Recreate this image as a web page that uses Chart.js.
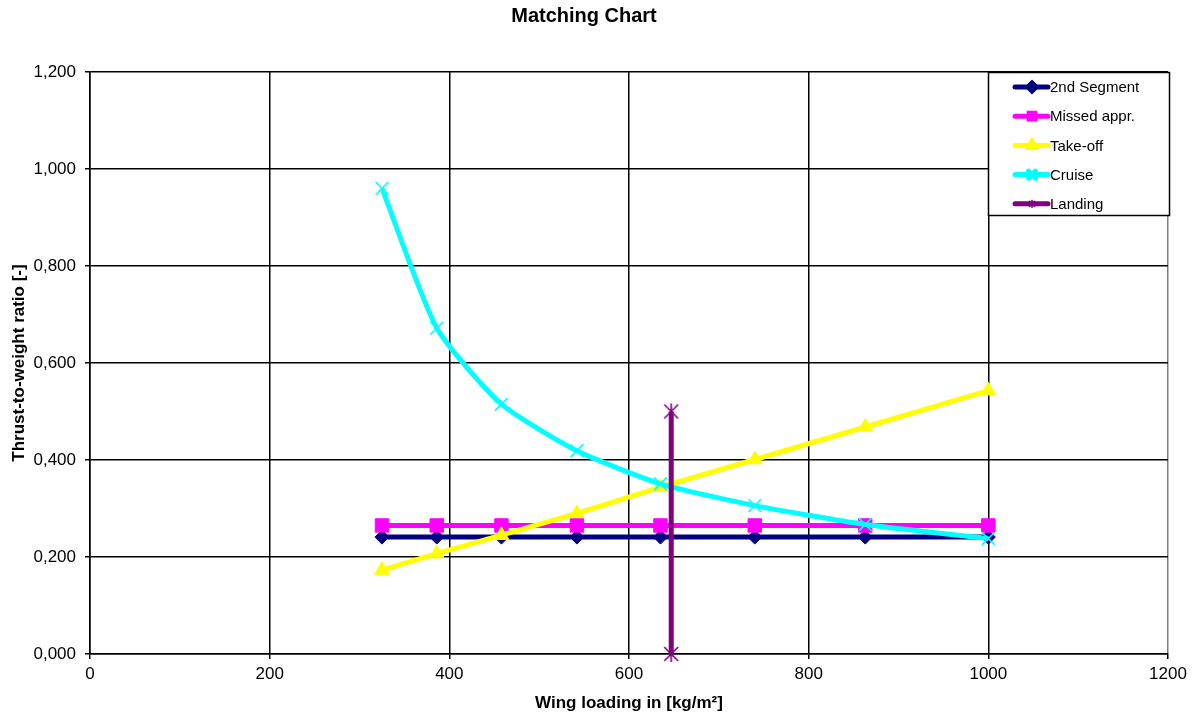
<!DOCTYPE html>
<html>
<head>
<meta charset="utf-8">
<title>Matching Chart</title>
<script src="https://cdn.jsdelivr.net/npm/chart.js@4/dist/chart.umd.min.js"></script>
<style>
    html, body { margin: 0; padding: 0; background: #fff; }
    #wrap { position: relative; width: 1193px; height: 718px; }
</style>
</head>
<body>
<div id="wrap"><canvas id="chart" width="1193" height="718"></canvas></div>
<script>
const wingLoading = [325, 386, 458, 542, 635, 740, 863, 1000];
const secondSegment = [0.241, 0.241, 0.241, 0.241, 0.241, 0.241, 0.241, 0.241];
const missedAppr = [0.265, 0.265, 0.265, 0.265, 0.265, 0.265, 0.265, 0.265];
const takeOff = [0.173, 0.207, 0.245, 0.290, 0.344, 0.401, 0.468, 0.543];
const cruise = [0.960, 0.672, 0.515, 0.419, 0.351, 0.306, 0.267, 0.238];
const landingX = [647, 647];
const landingY = [0, 0.5];

const seriesNames = ["2nd Segment", "Missed appr.", "Take-off", "Cruise", "Landing"];
const xTicks = [0, 200, 400, 600, 800, 1000, 1200];
const yTicks = [0, 0.2, 0.4, 0.6, 0.8, 1.0, 1.2];

const FONT = "'Liberation Sans', Arial, sans-serif";

function toPoints(xs, ys) {
    return ys.map((y, i) => ({ x: xs[i], y }));
}

// Excel style "star" marker: X with a vertical stroke
function starMarker(color, size) {
    const c = document.createElement("canvas");
    c.width = size;
    c.height = size;
    const g = c.getContext("2d");
    g.strokeStyle = color;
    g.lineWidth = 1.6;
    g.beginPath();
    g.moveTo(2, 2); g.lineTo(size - 2, size - 2);
    g.moveTo(size - 2, 2); g.lineTo(2, size - 2);
    g.moveTo(size / 2, 1); g.lineTo(size / 2, size - 1);
    g.stroke();
    return c;
}

const landingMarker = starMarker("#800080", 18);
const landingLegendMarker = starMarker("#800080", 10);

const datasets = [
    {
        label: seriesNames[0],
        data: toPoints(wingLoading, secondSegment),
        borderColor: "#000080",
        backgroundColor: "#000080",
        borderWidth: 5,
        pointStyle: "rectRot",
        pointRadius: 7,
        pointBorderWidth: 1,
        order: 5
    },
    {
        label: seriesNames[1],
        data: toPoints(wingLoading, missedAppr),
        borderColor: "#FF00FF",
        backgroundColor: "#FF00FF",
        borderWidth: 5,
        pointStyle: "rect",
        pointRadius: 9.5,
        pointBorderWidth: 1,
        order: 4
    },
    {
        label: seriesNames[2],
        data: toPoints(wingLoading, takeOff),
        borderColor: "#FFFF00",
        backgroundColor: "#FFFF00",
        borderWidth: 5,
        pointStyle: "triangle",
        pointRadius: 8.5,
        pointBorderWidth: 1,
        order: 3
    },
    {
        label: seriesNames[3],
        data: toPoints(wingLoading, cruise),
        borderColor: "#00FFFF",
        backgroundColor: "#00FFFF",
        borderWidth: 5,
        pointStyle: "crossRot",
        pointRadius: 9,
        pointBorderWidth: 1.6,
        tension: 0.2,
        order: 2
    },
    {
        label: seriesNames[4],
        data: toPoints(landingX, landingY),
        borderColor: "#800080",
        backgroundColor: "#800080",
        borderWidth: 5,
        pointStyle: landingMarker,
        pointRadius: 9,
        clip: false,
        order: 1
    }
];

const boxLegend = {
    id: "boxLegend",
    afterDraw(chart) {
        const ctx = chart.ctx;
        const area = chart.chartArea;
        const left = area.right - 180;
        const top = area.top;
        const w = 181;
        const h = 143;

        ctx.save();
        ctx.fillStyle = "#fff";
        ctx.fillRect(left, top, w, h);
        ctx.strokeStyle = "#000";
        ctx.lineWidth = 1.5;
        ctx.strokeRect(left + 0.5, top + 0.5, w, h);

        ctx.font = "15px " + FONT;
        ctx.textBaseline = "middle";
        ctx.textAlign = "left";

        chart.data.datasets.forEach((ds, i) => {
            const y = top + 15 + i * 29.2;
            ctx.strokeStyle = ds.borderColor;
            ctx.lineWidth = 5;
            ctx.lineCap = "round";
            ctx.beginPath();
            ctx.moveTo(left + 27, y);
            ctx.lineTo(left + 60, y);
            ctx.stroke();

            const mx = left + 44;
            if (typeof ds.pointStyle === "string" && Chart.helpers && Chart.helpers.drawPoint) {
                ctx.fillStyle = ds.backgroundColor;
                ctx.strokeStyle = ds.borderColor;
                Chart.helpers.drawPoint(ctx, {
                    pointStyle: ds.pointStyle,
                    radius: ds.pointStyle === "crossRot" ? 5 : 4,
                    rotation: 0,
                    borderWidth: 1.2
                }, mx, y);
            } else if (ds.pointStyle === landingMarker) {
                ctx.drawImage(landingLegendMarker, mx - 5, y - 5);
            }

            ctx.fillStyle = "#000";
            ctx.fillText(ds.label, left + 62, y + 1);
        });
        ctx.restore();
    }
};

Chart.defaults.font.family = FONT;
Chart.defaults.color = "#000";

new Chart(document.getElementById("chart"), {
    type: "line",
    data: { datasets },
    options: {
        responsive: false,
        animation: false,
        layout: { padding: { left: 0, right: 25, top: 0, bottom: 0 } },
        plugins: {
            legend: { display: false },
            tooltip: { enabled: false },
            title: {
                display: true,
                text: "Matching Chart",
                color: "#000",
                font: { size: 20, weight: "bold" },
                padding: { top: 4, bottom: 44 }
            }
        },
        scales: {
            x: {
                type: "linear",
                min: xTicks[0],
                max: xTicks[xTicks.length - 1],
                afterBuildTicks: (scale) => {
                    scale.ticks = xTicks.map(v => ({ value: v }));
                },
                afterFit: (scale) => { scale.height = 64; },
                ticks: {
                    font: { size: 17 },
                    color: "#000",
                    padding: 5,
                    maxRotation: 0,
                    callback: (v) => String(v)
                },
                grid: {
                    color: (c) => c.tick && c.tick.value === 1200 ? "#808080" : "#000",
                    tickColor: "#000",
                    tickLength: 5,
                    lineWidth: 1.5
                },
                border: { color: "#000", width: 1.5 },
                title: {
                    display: true,
                    text: "Wing loading in [kg/m²]",
                    color: "#000",
                    font: { size: 17, weight: "bold" },
                    padding: { top: 0, bottom: 4 }
                }
            },
            y: {
                min: yTicks[0],
                max: yTicks[yTicks.length - 1],
                afterBuildTicks: (scale) => {
                    scale.ticks = yTicks.map(v => ({ value: v }));
                },
                afterFit: (scale) => { scale.width = 90; },
                ticks: {
                    font: { size: 17 },
                    color: "#000",
                    padding: 9,
                    callback: (v) => Number(v).toFixed(3).replace(".", ",")
                },
                grid: {
                    color: "#000",
                    tickColor: "#000",
                    tickLength: 5,
                    lineWidth: 1.5
                },
                border: { color: "#000", width: 1.5 },
                title: {
                    display: true,
                    text: "Thrust-to-weight ratio [-]",
                    color: "#000",
                    font: { size: 17, weight: "bold" },
                    padding: { top: 9, bottom: 0 }
                }
            }
        }
    },
    plugins: [boxLegend]
});
</script>
</body>
</html>
